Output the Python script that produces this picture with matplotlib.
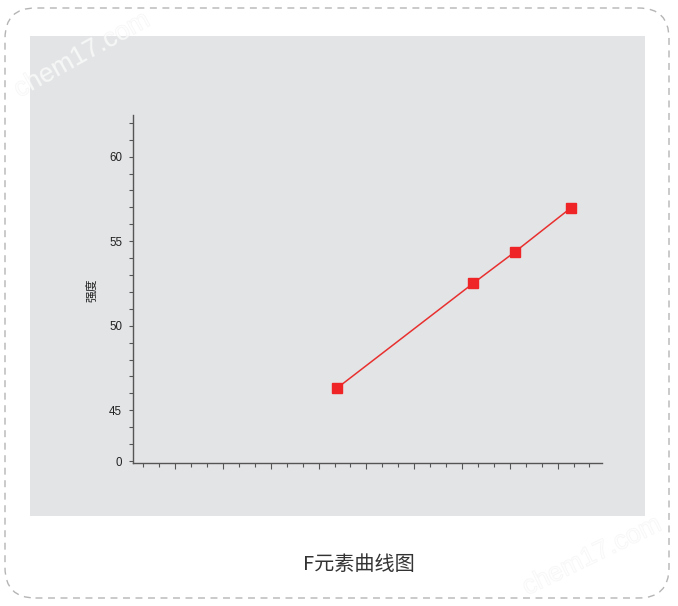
import matplotlib
matplotlib.use('Agg')
import matplotlib.pyplot as plt
import matplotlib.patheffects as pe
from matplotlib.patches import FancyBboxPatch, Rectangle
from matplotlib.ticker import FixedLocator, MultipleLocator, NullFormatter

plt.rcParams['font.family'] = ['Liberation Sans', 'Noto Sans CJK SC', 'DejaVu Sans']

# data (x in tick units of the unlabeled axis, y = intensity)
x_vals = [12.17, 20.72, 23.33, 26.84]
y_vals = [46.32, 52.52, 54.37, 56.97]
y_tick_pos = [42, 45, 50, 55, 60]
y_tick_labels = ['0', '45', '50', '55', '60']
title_text = 'F元素曲线图'
y_label = '强度'

W, H = 678, 606
fig = plt.figure(figsize=(W / 100, H / 100), dpi=100)
fig.patch.set_facecolor('white')

# dashed rounded frame
frame = FancyBboxPatch((5 / W, 8 / H), 664 / W, 590 / H,
                       boxstyle='round,pad=0,rounding_size=0.045',
                       transform=fig.transFigure, fill=False,
                       edgecolor='#b5b5b5', linestyle=(0, (5, 4)), linewidth=1.0,
                       mutation_aspect=W / H, zorder=-2)
fig.patches.append(frame)

# grey panel
panel = Rectangle((29.5 / W, (H - 516) / H), 615 / W, 480 / H,
                  transform=fig.transFigure, facecolor='#e3e4e6', edgecolor='none',
                  zorder=-2)
fig.patches.append(panel)

# watermarks
for (cx, cy, ang) in [(82, 55, 29), (592, 556, 26)]:
    fig.text(cx / W, 1 - cy / H, 'chem17.com', ha='center', va='center',
             rotation=ang, fontsize=19, color='white', alpha=0.45, zorder=-1,
             path_effects=[pe.withStroke(linewidth=0.8, foreground='#ececec')])

ax = fig.add_axes([132.7 / W, (H - 462.7) / H, 469 / W, 347.7 / H])
ax.set_facecolor('none')
ax.set_zorder(2)

ax.plot(x_vals, y_vals, color='#e8302f', linewidth=1.1, marker='s',
        markersize=7, markerfacecolor='#ee2426', markeredgecolor='#ee2426', zorder=3)

ax.set_xlim(-0.67, 28.77)
ax.set_ylim(41.9, 62.46)

for s in ['top', 'right']:
    ax.spines[s].set_visible(False)
for s in ['left', 'bottom']:
    ax.spines[s].set_color('#555555')
    ax.spines[s].set_linewidth(1.0)

ax.set_yticks(y_tick_pos)
ax.set_yticklabels(y_tick_labels)
ax.yaxis.set_minor_locator(MultipleLocator(1))
ax.tick_params(axis='y', which='both', length=3.2, width=0.8, color='#555555',
               labelsize=8.3, labelcolor='#222222', pad=4.5)

ax.xaxis.set_major_locator(FixedLocator(list(range(2, 29, 3))))
ax.xaxis.set_minor_locator(FixedLocator(list(range(0, 29))))
ax.xaxis.set_major_formatter(NullFormatter())
ax.tick_params(axis='x', which='major', length=4.2, width=0.8, color='#555555')
ax.tick_params(axis='x', which='minor', length=2.6, width=0.8, color='#555555')

ax.set_ylabel(y_label, fontsize=8.5, color='#222222', family=['Noto Sans CJK SC'])
ax.yaxis.set_label_coords(-0.073, 0.497)

fig.text(359 / W, 1 - 565 / H, title_text, ha='center', va='center',
         fontsize=14.5, color='#333333', family=['Noto Sans CJK SC', 'DejaVu Sans'])

fig.savefig('out.png', dpi=100, facecolor='white')
